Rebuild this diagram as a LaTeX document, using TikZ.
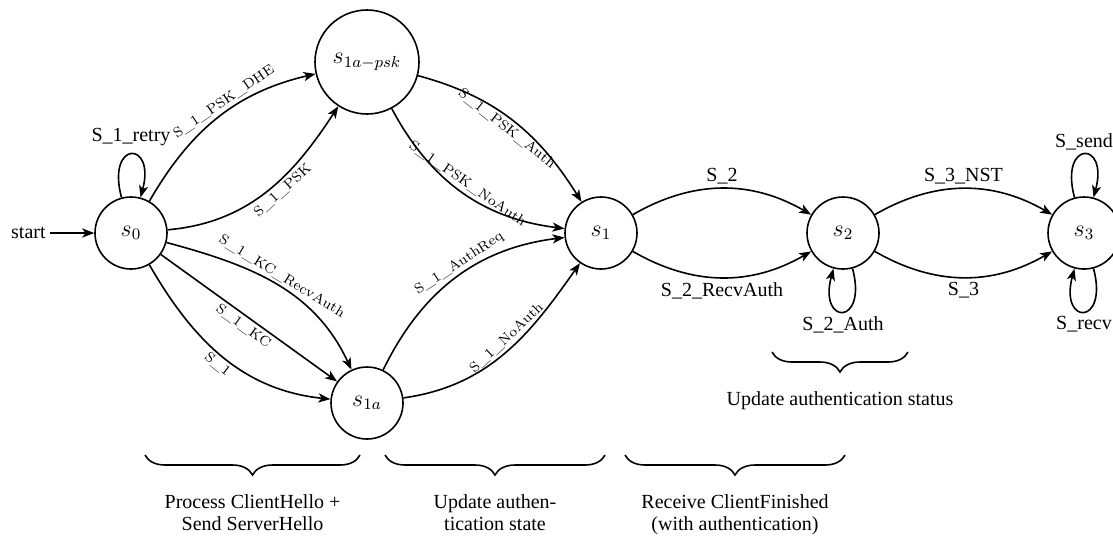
\documentclass[tikz,border=0pt]{standalone}
\usepackage{fontspec}
\setmainfont{Liberation Serif}
\newfontfamily\lmtext{Latin Modern Roman}
\usetikzlibrary{arrows.meta,decorations.pathreplacing}
\tikzset{
  >={Stealth[length=6pt,width=4.6pt,inset=1.6pt]},
  hsstate/.style={circle,draw,thick,minimum size=36pt,inner sep=0pt,font=\large},
  trans/.style={thick,->},
  smalllbl/.style={font=\lmtext\scriptsize,sloped,inner sep=1.5pt},
  biglbl/.style={font=\normalsize,inner sep=2pt},
  phasebrace/.style={thick,decorate,decoration={brace,mirror,amplitude=10pt}}
}
\newcommand{\PhaseBrace}[5]{%
  \draw[phasebrace] (#2,#4) -- (#3,#4)
    node[midway,below=16pt,align=center,font=\fontsize{10}{11}\selectfont] (#1) {#5};
}

\begin{document}
\begin{tikzpicture}[x=0.5pt,y=-0.5pt]
  \useasboundingbox (0,0) rectangle (1113,538);

  % states of the server handshake
  \node[hsstate] (s0) at (131,233) {$s_0$};
  \node[hsstate,minimum size=52pt] (s1apsk) at (367,62) {$s_{1a-psk}$};
  \node[hsstate] (s1a) at (367,403) {$s_{1a}$};
  \node[hsstate] (s1) at (601,233) {$s_1$};
  \node[hsstate] (s2) at (843,233) {$s_2$};
  \node[hsstate] (s3) at (1084,233) {$s_3$};

  \node[biglbl,anchor=east] (start) at (50,233) {start};
  \draw[trans] (start) -- (s0);
  \draw[trans] (s0) to[loop above] node[biglbl,above,yshift=2pt] {S\_1\_retry} (s0);

  % s0 -> s1a-psk / s1a
  \draw[trans] (s0) to[out=60,in=193] node[smalllbl,above,pos=0.57] {S\_1\_PSK\_DHE} (s1apsk);
  \draw[trans] (s0) to[out=5,in=237] node[smalllbl,below,pos=0.56] {S\_1\_PSK} (s1apsk);
  \draw[trans] (s0) to[out=-15,in=115] node[smalllbl,above] {S\_1\_KC\_RecvAuth} (s1a);
  \draw[trans] (s0) -- node[smalllbl,below] {S\_1\_KC} (s1a);
  \draw[trans] (s0) to[out=-60,in=174] node[smalllbl,below] {S\_1} (s1a);

  % s1a-psk / s1a -> s1
  \draw[trans] (s1apsk) to[out=-15,in=122] node[smalllbl,below] {S\_1\_PSK\_Auth} (s1);
  \draw[trans] (s1apsk) to[out=-62,in=173] node[smalllbl,above] {S\_1\_PSK\_NoAuth} (s1);
  \draw[trans] (s1a) to[out=64,in=187] node[smalllbl,above,pos=0.55] {S\_1\_AuthReq} (s1);
  \draw[trans] (s1a) to[out=8,in=235] node[smalllbl,above,pos=0.55] {S\_1\_NoAuth} (s1);

  % finished and application data
  \draw[trans] (s1) to[out=30,in=150] node[biglbl,above] {S\_2} (s2);
  \draw[trans] (s1) to[out=-30,in=-150] node[biglbl,below] {S\_2\_RecvAuth} (s2);
  \draw[trans] (s2) to[loop below] node[biglbl,below] {S\_2\_Auth} (s2);
  \draw[trans] (s2) to[out=30,in=150] node[biglbl,above] {S\_3\_NST} (s3);
  \draw[trans] (s2) to[out=-30,in=-150] node[biglbl,below] {S\_3} (s3);
  \draw[trans] (s3) to[loop above] node[biglbl,above] {S\_send} (s3);
  \draw[trans] (s3) to[loop below] node[biglbl,below] {S\_recv} (s3);

  % phases
  \PhaseBrace{ph1}{145}{360}{455}{Process ClientHello +\\Send ServerHello}
  \PhaseBrace{ph2}{385}{605}{455}{Update authen-\\tication state}
  \PhaseBrace{ph3}{625}{845}{455}{Receive ClientFinished\\(with authentication)}
  \PhaseBrace{ph4}{772}{908}{352}{Update authentication status}
\end{tikzpicture}
\end{document}
